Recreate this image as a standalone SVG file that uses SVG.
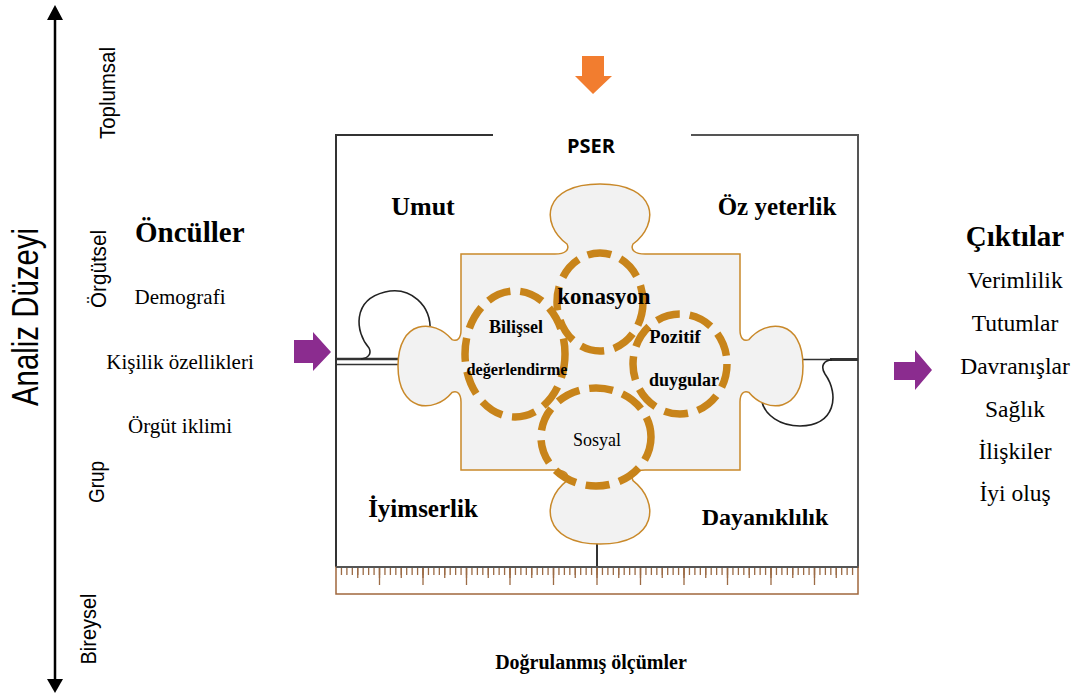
<svg xmlns="http://www.w3.org/2000/svg" width="1074" height="695" viewBox="0 0 1074 695">
<style>
.serif{font-family:"Liberation Serif","Times New Roman",serif;fill:#000}
.b{font-weight:bold}
.sans{font-family:"Liberation Sans",Arial,sans-serif;fill:#000}
.dash{fill:none;stroke:#C8841A;stroke-width:7.5;stroke-dasharray:24 10}
.edge{fill:none;stroke:#222;stroke-width:1.6}
.tick{stroke:#9C6B45;stroke-width:17}
</style>
<rect width="1074" height="695" fill="#fff"/>

<g id="axis">
<line x1="55" y1="16" x2="55" y2="682" stroke="#000" stroke-width="2.5"/>
<polygon points="55,5 47,20 63,20" fill="#000"/>
<polygon points="55,693 47,679 63,679" fill="#000"/>
<text class="sans" transform="translate(38,317) rotate(-90)" font-size="37" text-anchor="middle" textLength="178" lengthAdjust="spacingAndGlyphs">Analiz Düzeyi</text>
<text class="sans" transform="translate(115,93) rotate(-90)" font-size="22" text-anchor="middle" textLength="92" lengthAdjust="spacingAndGlyphs">Toplumsal</text>
<text class="sans" transform="translate(106,269) rotate(-90)" font-size="22" text-anchor="middle" textLength="78" lengthAdjust="spacingAndGlyphs">Örgütsel</text>
<text class="sans" transform="translate(104,482) rotate(-90)" font-size="22" text-anchor="middle" textLength="42" lengthAdjust="spacingAndGlyphs">Grup</text>
<text class="sans" transform="translate(96,629) rotate(-90)" font-size="22" text-anchor="middle" textLength="71" lengthAdjust="spacingAndGlyphs">Bireysel</text>
</g>

<g id="antecedents">
<text class="serif b" x="135" y="242" font-size="29">Öncüller</text>
<text class="serif" x="180" y="304" font-size="21" text-anchor="middle">Demografi</text>
<text class="serif" x="180" y="369" font-size="21" text-anchor="middle">Kişilik özellikleri</text>
<text class="serif" x="180" y="433" font-size="21" text-anchor="middle">Örgüt iklimi</text>
</g>

<g id="outcomes">
<text class="serif b" x="1015" y="246" font-size="29" text-anchor="middle">Çıktılar</text>
<text class="serif" x="1015" y="288" font-size="23.5" text-anchor="middle">Verimlilik</text>
<text class="serif" x="1015" y="331" font-size="23.5" text-anchor="middle">Tutumlar</text>
<text class="serif" x="1015" y="374" font-size="23.5" text-anchor="middle">Davranışlar</text>
<text class="serif" x="1015" y="417" font-size="23.5" text-anchor="middle">Sağlık</text>
<text class="serif" x="1015" y="459" font-size="23.5" text-anchor="middle">İlişkiler</text>
<text class="serif" x="1015" y="501" font-size="23.5" text-anchor="middle">İyi oluş</text>
</g>

<g id="connectors">
<polygon points="582,56 604,56 604,76 612,76 593,94 575,76 582,76" fill="#F27D2F"/>
<polygon points="294,340 313,340 313,332 331,352 313,371 313,363 294,363" fill="#8B2C8F"/>
<polygon points="894,362 915,362 915,350 932,370 915,390 915,380 894,380" fill="#8B2C8F"/>
</g>

<g id="frame">
<path d="M493,135 H336 V567" fill="none" stroke="#333" stroke-width="2"/>
<path d="M336,567 H858 V135 H691" fill="none" stroke="#555" stroke-width="2"/>
<line x1="597" y1="540" x2="597" y2="567" stroke="#333" stroke-width="2"/>
<line x1="336" y1="359" x2="402" y2="359" stroke="#333" stroke-width="2.5"/>
<line x1="336" y1="364.5" x2="402" y2="364.5" stroke="#333" stroke-width="1.5"/>
<line x1="798" y1="359.5" x2="858" y2="359.5" stroke="#333" stroke-width="1.5"/>
<line x1="830" y1="359.5" x2="858" y2="359.5" stroke="#333" stroke-width="3"/>
<path class="edge" d="M361,359 C368,358 372,354 369,348 C355,332 352,300 385,292 C410,286 432,305 430,332"/>
<path class="edge" d="M832,360 C824,360 820,366 825,374 C840,395 835,426 800,426 C780,426 765,415 762,402"/>
<text x="591" y="153" font-family="'Open Sans','Liberation Sans',sans-serif" font-weight="bold" font-size="20" text-anchor="middle">PSER</text>
</g>

<g id="ruler">
<rect x="336" y="567" width="522" height="27" fill="#fff" stroke="#A0673D" stroke-width="1.5"/>
<line x1="336" y1="567" x2="858" y2="567" stroke="#555" stroke-width="2"/>
<line class="tick" x1="340.8" y1="571.5" x2="853.3" y2="571.5" style="stroke-width:7;stroke-dasharray:1.3 4.1375"/>
<line class="tick" x1="357.1" y1="573" x2="837" y2="573" style="stroke-width:10;stroke-dasharray:1.3 20.45"/>
<line class="tick" x1="378.85" y1="576.5" x2="816" y2="576.5" style="stroke-dasharray:1.3 42.2"/>
</g>

<g id="puzzle">
<path d="M461,254 H555 C565,254 570,250 567,244 C540,224 542,184 600,184 C658,184 660,224 633,244 C630,250 635,254 645,254 H740 V330 C740,338 743.6,342 749,339.6 C767,318 803,319.6 803,366 C803,412.4 767,414 749,392.4 C743.6,390 740,394 740,402 V470 H645 C635,470 630,474.2 633,480.6 C660,501.7 658,544 600,544 C542,544 540,501.7 567,480.6 C570,474.2 565,470 555,470 H461 V402 C461,394 457.4,390 452,392.4 C434,414 398,412.4 398,366 C398,319.6 434,318 452,339.6 C457.4,342 461,338 461,330 Z" fill="#F2F2F2" stroke="#C9892A" stroke-width="1.5"/>
</g>

<g id="circles">
<ellipse class="dash" cx="600" cy="302" rx="43" ry="49"/>
<ellipse class="dash" cx="515" cy="354" rx="50" ry="63"/>
<ellipse class="dash" cx="680" cy="364" rx="47" ry="50"/>
<ellipse class="dash" cx="596" cy="437" rx="55" ry="49"/>
</g>

<g id="labels">
<text class="serif b" x="423" y="215" font-size="26" text-anchor="middle">Umut</text>
<text class="serif b" x="777" y="215" font-size="25" text-anchor="middle">Öz yeterlik</text>
<text class="serif b" x="423" y="517" font-size="25" text-anchor="middle">İyimserlik</text>
<text class="serif b" x="765" y="525" font-size="24" text-anchor="middle">Dayanıklılık</text>
<text class="serif b" x="604" y="304" font-size="23" text-anchor="middle">konasyon</text>
<text class="serif b" x="516" y="333" font-size="18" text-anchor="middle">Bilişsel</text>
<text class="serif b" x="517" y="375" font-size="16" text-anchor="middle" textLength="101" lengthAdjust="spacingAndGlyphs">değerlendirme</text>
<text class="serif b" x="675" y="343" font-size="18.5" text-anchor="middle">Pozitif</text>
<text class="serif b" x="684" y="386" font-size="18" text-anchor="middle">duygular</text>
<text class="serif" x="597" y="446" font-size="18" text-anchor="middle">Sosyal</text>
</g>

<g id="footer">
<text class="serif b" x="591" y="669" font-size="20" text-anchor="middle">Doğrulanmış ölçümler</text>
</g>
</svg>
